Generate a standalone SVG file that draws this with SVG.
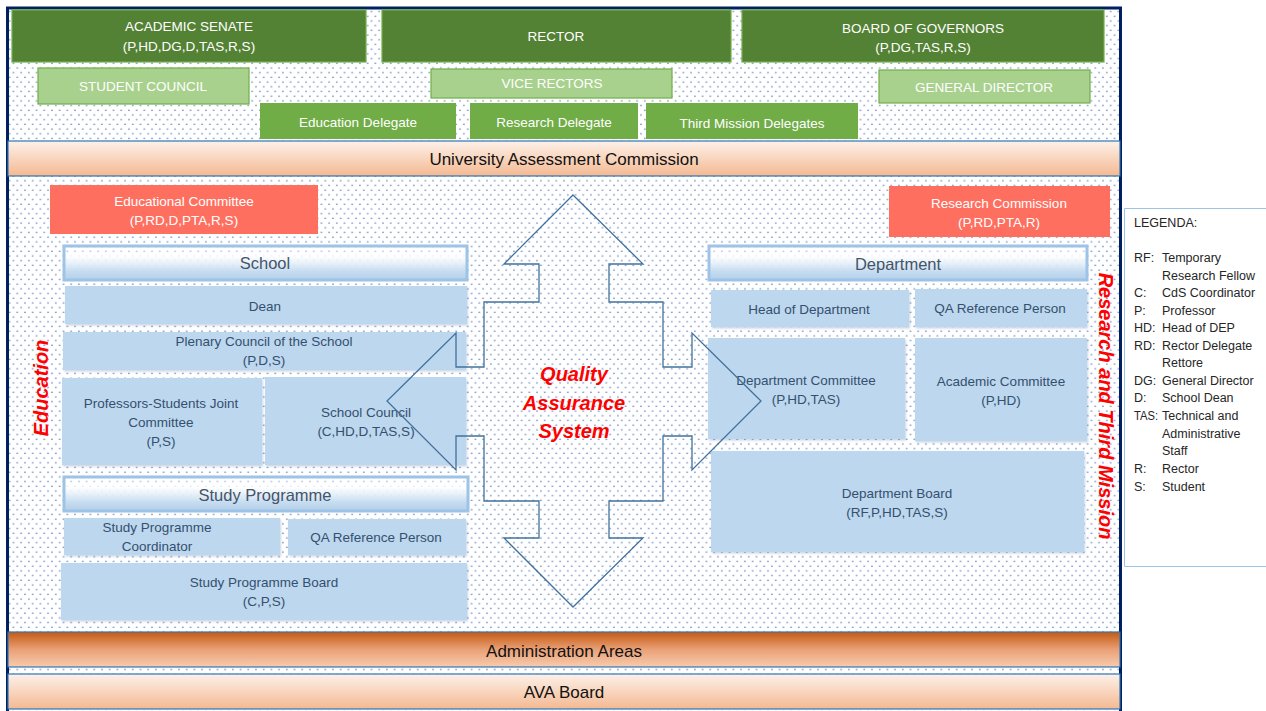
<svg xmlns="http://www.w3.org/2000/svg" width="1266" height="711" viewBox="0 0 1266 711">
<defs>
  <pattern id="dots" width="7.7" height="9.4" patternUnits="userSpaceOnUse">
    <circle cx="1.9" cy="2.2" r="0.75" fill="#4A6FB0"/>
    <circle cx="5.75" cy="6.9" r="0.75" fill="#4A6FB0"/>
  </pattern>
  <linearGradient id="peach" x1="0" y1="0" x2="0" y2="1">
    <stop offset="0" stop-color="#FDF1E9"/>
    <stop offset="1" stop-color="#F4B992"/>
  </linearGradient>
  <linearGradient id="rust" x1="0" y1="0" x2="0" y2="1">
    <stop offset="0" stop-color="#C55A11"/>
    <stop offset="0.5" stop-color="#E9A077"/>
    <stop offset="1" stop-color="#F8CBAD"/>
  </linearGradient>
  <linearGradient id="hdr" x1="0" y1="0" x2="0" y2="1">
    <stop offset="0" stop-color="#FFFFFF" stop-opacity="0"/>
    <stop offset="0.3" stop-color="#FFFFFF" stop-opacity="0.85"/>
    <stop offset="0.75" stop-color="#C5DCF0"/>
    <stop offset="1" stop-color="#B4CFEA"/>
  </linearGradient>
  <filter id="sh" x="-5%" y="-10%" width="110%" height="130%">
    <feDropShadow dx="1" dy="1.5" stdDeviation="1.2" flood-color="#6A8BB0" flood-opacity="0.35"/>
  </filter>
  <style>
    text { font-family: "Liberation Sans", Arial, sans-serif; }
    .dg { fill: #548235; stroke: #70AD47; stroke-width: 1.2; }
    .lg { fill: #A9D18E; stroke: #70AD47; stroke-width: 1.2; }
    .mg { fill: #70AD47; }
    .coral { fill: #FF6F5F; }
    .wt { fill: #FFFFFF; font-size: 13.5px; text-anchor: middle; }
    .bb { fill: #BDD7EE; filter: url(#sh); }
    .hb { fill: url(#hdr); stroke: #9DC3E6; stroke-width: 3; }
    .bt { fill: #34506F; font-size: 13.5px; text-anchor: middle; }
    .ht { fill: #44546A; font-size: 16.5px; text-anchor: middle; }
    .band { stroke: #2E75B6; stroke-width: 1.2; }
    .bandt { fill: #111111; font-size: 17px; text-anchor: middle; }
    .red { fill: #FF0000; font-weight: bold; font-style: italic; font-size: 20px; text-anchor: middle; }
    .lt { fill: #262626; font-size: 12.5px; }
  </style>
</defs>

<rect width="1266" height="711" fill="#FFFFFF"/>
<rect x="8" y="9" width="1112" height="702" fill="url(#dots)"/>
<path d="M7.5,711 V8 H1120.5 V711" fill="none" stroke="#002060" stroke-width="3"/>

<g id="academic-senate"><rect class="dg" x="12" y="10" width="354" height="52"/><text class="wt" x="189" y="31">ACADEMIC SENATE</text><text class="wt" x="189" y="51">(P,HD,DG,D,TAS,R,S)</text></g>
<g id="rector"><rect class="dg" x="382" y="10" width="349" height="52"/><text class="wt" x="556" y="41">RECTOR</text></g>
<g id="board-of-governors"><rect class="dg" x="742" y="10" width="362" height="52"/><text class="wt" x="923" y="33">BOARD OF GOVERNORS</text><text class="wt" x="923" y="52">(P,DG,TAS,R,S)</text></g>
<g id="student-council"><rect class="lg" x="38" y="68" width="211" height="36"/><text class="wt" x="143" y="91">STUDENT COUNCIL</text></g>
<g id="vice-rectors"><rect class="lg" x="431" y="69" width="241" height="29"/><text class="wt" x="552" y="88">VICE RECTORS</text></g>
<g id="general-director"><rect class="lg" x="879" y="70" width="211" height="33"/><text class="wt" x="984" y="92">GENERAL DIRECTOR</text></g>
<g id="education-delegate"><rect class="mg" x="260" y="103" width="196" height="36"/><text class="wt" x="358" y="127">Education Delegate</text></g>
<g id="research-delegate"><rect class="mg" x="470" y="103" width="168" height="36"/><text class="wt" x="554" y="127">Research Delegate</text></g>
<g id="third-mission-delegates"><rect class="mg" x="646" y="103" width="212" height="36"/><text class="wt" x="752" y="128">Third Mission Delegates</text></g>

<g id="university-assessment-commission"><rect class="band" x="8" y="141" width="1112" height="35" fill="url(#peach)"/><text class="bandt" x="564" y="165">University Assessment Commission</text></g>

<g id="educational-committee"><rect class="coral" x="50" y="185" width="268" height="49"/><text class="wt" x="184" y="206" font-size="14">Educational Committee</text><text class="wt" x="184" y="225" font-size="14">(P,RD,D,PTA,R,S)</text></g>
<g id="research-commission"><rect class="coral" x="889" y="186" width="221" height="51"/><text class="wt" x="999" y="208" font-size="14">Research Commission</text><text class="wt" x="999" y="227" font-size="14">(P,RD,PTA,R)</text></g>

<g id="school"><rect class="hb" x="64" y="246" width="403" height="34"/><text class="ht" x="265" y="269">School</text></g>
<g id="dean"><rect class="bb" x="65" y="286" width="402" height="38"/><text class="bt" x="265" y="311">Dean</text></g>
<g id="plenary-council"><rect class="bb" x="63" y="332" width="403" height="38"/><text class="bt" x="264" y="346">Plenary Council of the School</text><text class="bt" x="264" y="365">(P,D,S)</text></g>
<g id="joint-committee"><rect class="bb" x="62" y="378" width="200" height="87"/><text class="bt" x="161" y="408">Professors-Students Joint</text><text class="bt" x="161" y="427">Committee</text><text class="bt" x="161" y="446">(P,S)</text></g>
<g id="school-council"><rect class="bb" x="265" y="377" width="201" height="88"/><text class="bt" x="366" y="417">School Council</text><text class="bt" x="366" y="436">(C,HD,D,TAS,S)</text></g>
<g id="study-programme"><rect class="hb" x="64" y="477" width="404" height="34"/><text class="ht" x="265" y="501">Study Programme</text></g>
<g id="sp-coordinator"><rect class="bb" x="64" y="518" width="216" height="37"/><text class="bt" x="157" y="532">Study Programme</text><text class="bt" x="157" y="551">Coordinator</text></g>
<g id="qa-reference-left"><rect class="bb" x="288" y="519" width="178" height="36"/><text class="bt" x="376" y="542">QA Reference Person</text></g>
<g id="sp-board"><rect class="bb" x="61" y="563" width="406" height="57"/><text class="bt" x="264" y="587">Study Programme Board</text><text class="bt" x="264" y="606">(C,P,S)</text></g>

<g id="department"><rect class="hb" x="709" y="246" width="378" height="34"/><text class="ht" x="898" y="270">Department</text></g>
<g id="head-of-department"><rect class="bb" x="711" y="290" width="198" height="37"/><text class="bt" x="809" y="314">Head of Department</text></g>
<g id="qa-reference-right"><rect class="bb" x="915" y="289" width="172" height="38"/><text class="bt" x="1000" y="313">QA Reference Person</text></g>
<g id="department-committee"><rect class="bb" x="708" y="338" width="197" height="101"/><text class="bt" x="806" y="385">Department Committee</text><text class="bt" x="806" y="404">(P,HD,TAS)</text></g>
<g id="academic-committee"><rect class="bb" x="915" y="338" width="172" height="103"/><text class="bt" x="1001" y="386">Academic Committee</text><text class="bt" x="1001" y="405">(P,HD)</text></g>
<g id="department-board"><rect class="bb" x="711" y="451" width="373" height="101"/><text class="bt" x="897" y="498">Department Board</text><text class="bt" x="897" y="517">(RF,P,HD,TAS,S)</text></g>

<g id="connectors">
  <path d="M573,195 L643,264 L609,264 L609,302 L663,302 L663,367 L692,367 L692,333 L761,401 L692,470 L692,436 L663,436 L663,501 L609,501 L609,538 L643,538 L573,607 L504,538 L539,538 L539,501 L484,501 L484,436 L456,436 L456,470 L387,401 L456,333 L456,367 L484,367 L484,302 L539,302 L539,264 L504,264 Z" fill="none" stroke="#41719C" stroke-width="1.3" stroke-linejoin="miter"/>
</g>

<g id="quality-assurance-system">
  <text class="red" x="574" y="381">Quality</text>
  <text class="red" x="574" y="410">Assurance</text>
  <text class="red" x="574" y="438">System</text>
</g>
<g id="education-label"><text class="red" transform="translate(48,388) rotate(-90)" x="0" y="0">Education</text></g>
<g id="research-label"><text class="red" font-size="19" transform="translate(1099,406) rotate(90)" x="0" y="0">Research and Third Mission</text></g>

<g id="administration-areas"><rect class="band" x="8" y="632" width="1112" height="35" fill="url(#rust)"/><text class="bandt" x="564" y="657" font-size="16.5">Administration Areas</text></g>
<g id="ava-board"><rect class="band" x="8" y="674" width="1112" height="35" fill="url(#peach)"/><text class="bandt" x="564" y="698" font-size="16.5">AVA Board</text></g>

<g id="legend">
  <path d="M1267,208.5 H1124.5 V566.5 H1267" fill="#FFFFFF" stroke="#9DC3E6" stroke-width="1"/>
  <text class="lt" x="1134" y="227">LEGENDA:</text>
  <text class="lt" x="1134" y="262">RF:</text><text class="lt" x="1162" y="262">Temporary</text>
  <text class="lt" x="1162" y="280">Research Fellow</text>
  <text class="lt" x="1134" y="297">C:</text><text class="lt" x="1162" y="297">CdS Coordinator</text>
  <text class="lt" x="1134" y="315">P:</text><text class="lt" x="1162" y="315">Professor</text>
  <text class="lt" x="1134" y="332">HD:</text><text class="lt" x="1162" y="332">Head of DEP</text>
  <text class="lt" x="1134" y="350">RD:</text><text class="lt" x="1162" y="350">Rector Delegate</text>
  <text class="lt" x="1162" y="367">Rettore</text>
  <text class="lt" x="1134" y="385">DG:</text><text class="lt" x="1162" y="385">General Director</text>
  <text class="lt" x="1134" y="402">D:</text><text class="lt" x="1162" y="402">School Dean</text>
  <text class="lt" x="1134" y="420" textLength="24" lengthAdjust="spacingAndGlyphs">TAS:</text><text class="lt" x="1162" y="420">Technical and</text>
  <text class="lt" x="1162" y="438">Administrative</text>
  <text class="lt" x="1162" y="455">Staff</text>
  <text class="lt" x="1134" y="473">R:</text><text class="lt" x="1162" y="473">Rector</text>
  <text class="lt" x="1134" y="491">S:</text><text class="lt" x="1162" y="491">Student</text>
</g>
</svg>
